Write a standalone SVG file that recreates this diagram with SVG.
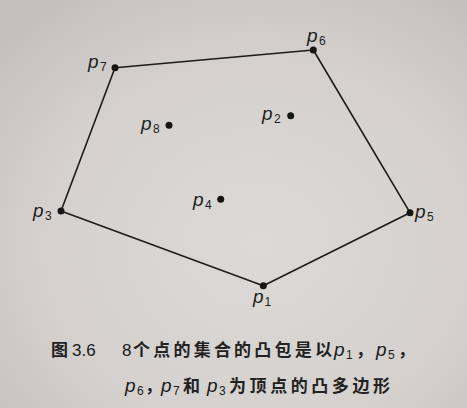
<svg xmlns="http://www.w3.org/2000/svg" width="467" height="408" viewBox="0 0 467 408">
<defs>
<radialGradient id="bg" cx="0.55" cy="0.6" r="0.75">
<stop offset="0" stop-color="#dcdad7"/>
<stop offset="0.6" stop-color="#d4d1ce"/>
<stop offset="1" stop-color="#c2bfbc"/>
</radialGradient>
</defs>
<style>
.edge{fill:none;stroke:#1c1c1c;stroke-width:1.6;stroke-linejoin:round}
.pt{fill:#151515}
.lbl{font-family:"Liberation Sans",Arial,sans-serif;font-style:italic;font-size:19px;fill:#1e1e1e}
.sub{font-family:"Liberation Sans",Arial,sans-serif;font-size:12px;fill:#1e1e1e}
.cap{font-family:"Noto Sans CJK SC",sans-serif;font-size:17px;font-weight:bold;fill:#222}
.num{font-family:"Liberation Sans",Arial,sans-serif;font-size:17px;fill:#1a1a1a}
.capi{font-family:"Liberation Sans",Arial,sans-serif;font-style:italic;font-size:19px;fill:#1a1a1a}
.caps{font-family:"Liberation Sans",Arial,sans-serif;font-size:12px;fill:#1a1a1a}
</style>
<rect width="467" height="408" fill="url(#bg)"/>
<g id="connectors">
<polygon class="edge" points="263.3,285.7 410,212.7 313.3,50 115,67.7 61,211"/>
</g>
<g id="p1"><circle class="pt" cx="263.3" cy="285.7" r="3.5"/><text class="lbl" x="253" y="303">p</text><text class="sub" x="264.5" y="306">1</text></g>
<g id="p2"><circle class="pt" cx="290.7" cy="115.7" r="3.5"/><text class="lbl" x="262" y="120">p</text><text class="sub" x="274" y="123">2</text></g>
<g id="p3"><circle class="pt" cx="61" cy="211" r="3.5"/><text class="lbl" x="33" y="216.5">p</text><text class="sub" x="45" y="219.5">3</text></g>
<g id="p4"><circle class="pt" cx="220.7" cy="199.3" r="3.5"/><text class="lbl" x="193" y="206">p</text><text class="sub" x="205" y="209">4</text></g>
<g id="p5"><circle class="pt" cx="410" cy="212.7" r="3.5"/><text class="lbl" x="415" y="218">p</text><text class="sub" x="427" y="221">5</text></g>
<g id="p6"><circle class="pt" cx="313.3" cy="50" r="3.5"/><text class="lbl" x="307" y="42">p</text><text class="sub" x="319" y="45">6</text></g>
<g id="p7"><circle class="pt" cx="115" cy="67.7" r="3.5"/><text class="lbl" x="88" y="68">p</text><text class="sub" x="100" y="71">7</text></g>
<g id="p8"><circle class="pt" cx="169" cy="125.3" r="3.5"/><text class="lbl" x="141" y="130">p</text><text class="sub" x="153" y="133">8</text></g>
<g id="caption">
<text class="cap" x="51" y="356">图</text>
<text class="num" x="72" y="356">3.6</text>
<text class="num" x="122" y="356">8</text>
<text class="cap" x="133" y="356" textLength="199" lengthAdjust="spacing">个点的集合的凸包是以</text>
<text class="capi" x="334" y="356">p</text><text class="caps" x="346" y="359">1</text>
<text class="cap" x="356" y="356">，</text>
<text class="capi" x="376" y="356">p</text><text class="caps" x="388" y="359">5</text>
<text class="cap" x="398" y="356">，</text>
<text class="capi" x="125" y="392">p</text><text class="caps" x="137" y="395">6</text>
<text class="cap" x="145" y="392">，</text>
<text class="capi" x="161" y="392">p</text><text class="caps" x="173" y="395">7</text>
<text class="cap" x="183" y="392">和</text>
<text class="capi" x="207" y="392">p</text><text class="caps" x="219" y="395">3</text>
<text class="cap" x="229" y="392" textLength="161" lengthAdjust="spacing">为顶点的凸多边形</text>
</g>
</svg>
